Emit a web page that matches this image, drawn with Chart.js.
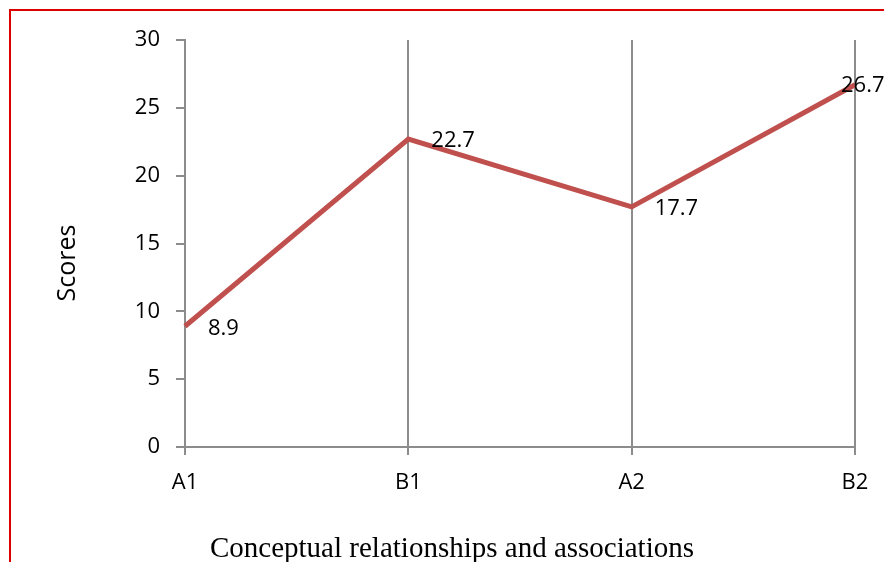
<!DOCTYPE html>
<html lang="en">
<head>
<meta charset="utf-8">
<title>Scores</title>
<script src="https://cdn.jsdelivr.net/npm/chart.js@4.4.1/dist/chart.umd.min.js"></script>
<style>
  html, body { margin: 0; padding: 0; background: #ffffff; overflow: hidden; }
  .wrap { position: relative; width: 884px; height: 562px; }
  .frame {
    position: absolute; left: 9px; top: 9px; width: 1000px; height: 1000px;
    border: 2px solid #dc0000; box-sizing: border-box;
  }
  canvas { position: absolute; left: 0; top: 0; }
</style>
</head>
<body>
<div class="wrap">
  <div class="frame"></div>
  <canvas id="chart" width="884" height="562"></canvas>
</div>
<script>
  const categories = ["A1", "B1", "A2", "B2"];
  const scores = [8.9, 22.7, 17.7, 26.7];
  const yTicks = [0, 5, 10, 15, 20, 25, 30];
  const xTitle = "Conceptual relationships and associations";
  const yTitle = "Scores";

  const gray = "#8c8c8c";
  const sans = "'Open Sans', 'Noto Sans', sans-serif";
  const serif = "'Liberation Serif', 'Times New Roman', serif";

  // value labels to the right of each point; the last one sits over its point
  const pointLabels = {
    id: "pointLabels",
    afterDatasetsDraw(chart) {
      const ctx = chart.ctx;
      const meta = chart.getDatasetMeta(0);
      ctx.save();
      ctx.font = "22px " + sans;
      ctx.fillStyle = "#000000";
      ctx.textAlign = "left";
      ctx.textBaseline = "middle";
      meta.data.forEach((pt, i) => {
        const last = i === meta.data.length - 1;
        const dx = last ? -14 : 23;
        const dy = last ? 1 : 2;
        ctx.fillText(String(scores[i]), pt.x + dx, pt.y + dy);
      });
      ctx.restore();
    }
  };

  // axis titles: x one centred on the page, y one a bit below the plot middle
  const axisTitles = {
    id: "axisTitles",
    afterDraw(chart) {
      const ctx = chart.ctx;
      ctx.save();
      ctx.fillStyle = "#000000";
      ctx.textAlign = "center";
      ctx.font = "29px " + serif;
      ctx.textBaseline = "alphabetic";
      ctx.fillText(xTitle, 452, 557);
      ctx.font = "25px " + sans;
      ctx.textBaseline = "middle";
      ctx.translate(68, 263);
      ctx.rotate(-Math.PI / 2);
      ctx.fillText(yTitle, 0, 0);
      ctx.restore();
    }
  };

  new Chart(document.getElementById("chart"), {
    type: "line",
    data: {
      labels: categories,
      datasets: [{
        data: scores,
        borderColor: "#c0504d",
        borderWidth: 5,
        pointRadius: 0,
        tension: 0,
        clip: false
      }]
    },
    options: {
      responsive: false,
      animation: false,
      layout: { padding: { top: 40, right: 29, left: 0, bottom: 0 } },
      plugins: { legend: { display: false }, tooltip: { enabled: false } },
      scales: {
        x: {
          offset: false,
          afterFit(scale) { scale.height = 115; },
          grid: { color: gray, lineWidth: 2, tickLength: 8 },
          border: { color: gray, width: 2 },
          ticks: { color: "#000000", font: { family: sans, size: 22 }, padding: 15, maxRotation: 0 }
        },
        y: {
          min: 0,
          max: 30,
          afterFit(scale) { scale.width = 185; },
          afterBuildTicks(scale) { scale.ticks = yTicks.map(v => ({ value: v })); },
          grid: { drawOnChartArea: false, color: gray, lineWidth: 2, tickLength: 9 },
          border: { color: gray, width: 2 },
          ticks: { color: "#000000", font: { family: sans, size: 22 }, padding: 16 }
        }
      }
    },
    plugins: [pointLabels, axisTitles]
  });
</script>
</body>
</html>
